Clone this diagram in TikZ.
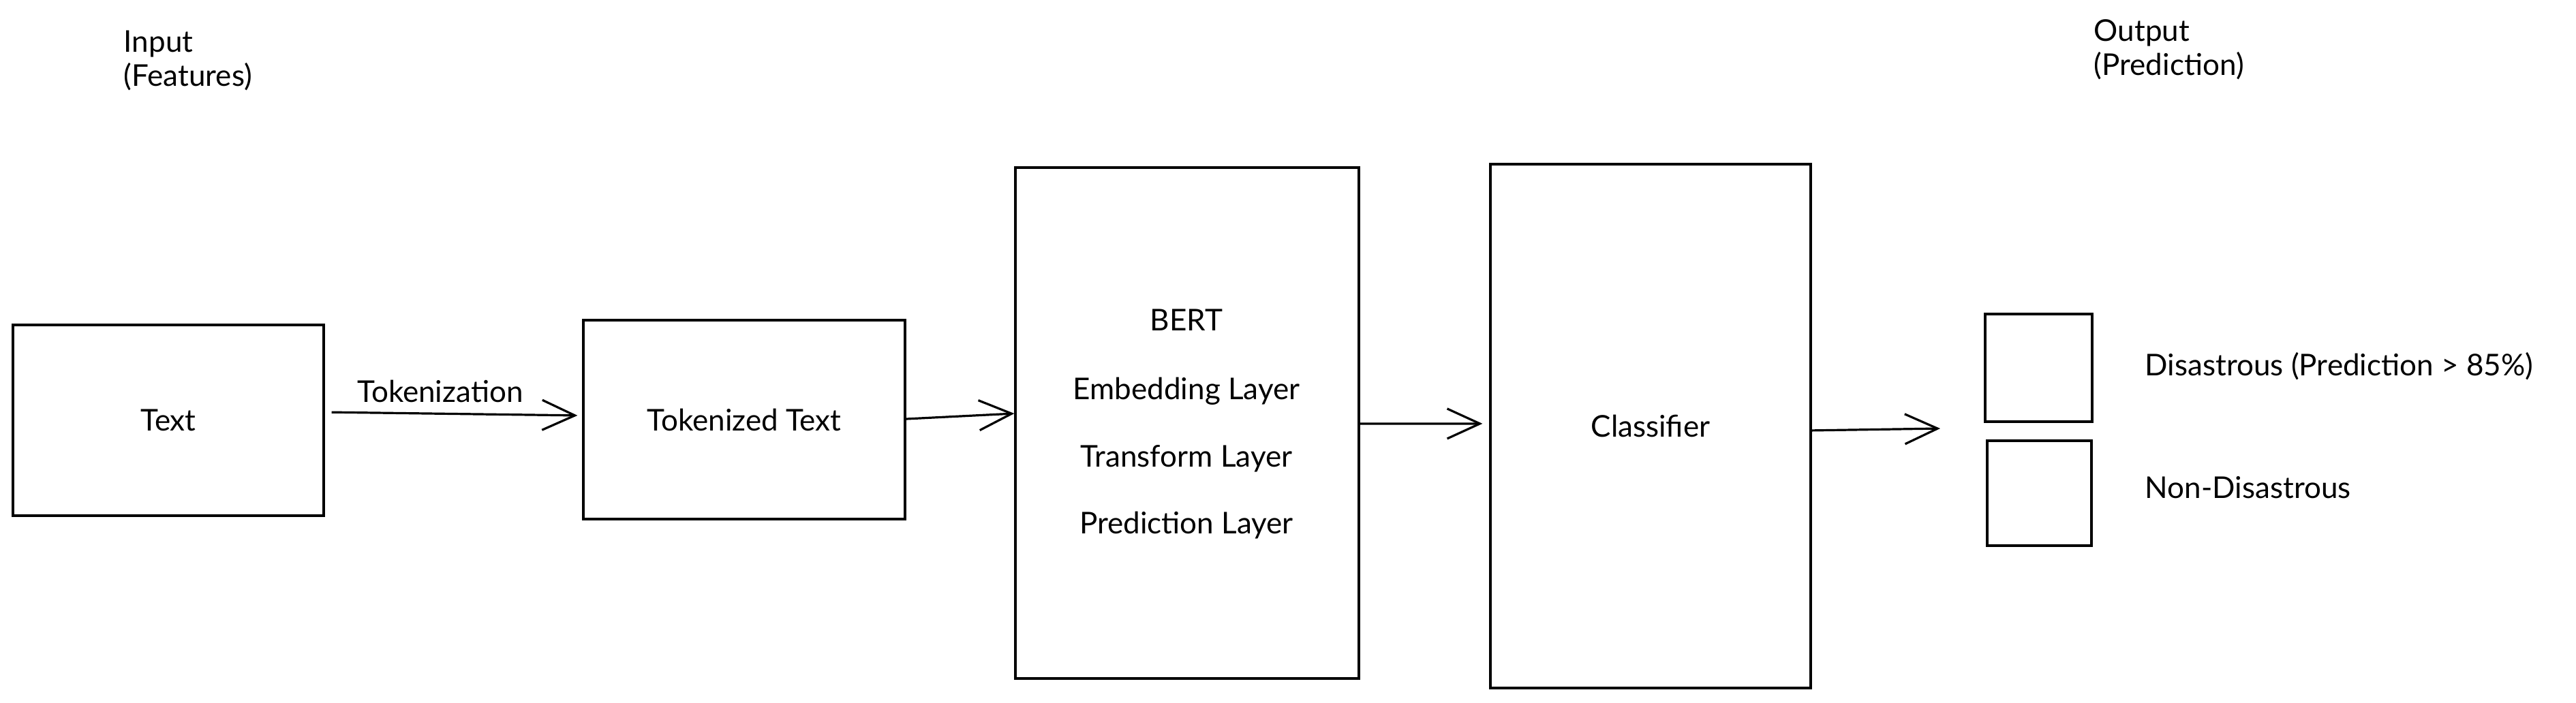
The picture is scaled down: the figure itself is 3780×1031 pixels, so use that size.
\documentclass[tikz,border=0pt]{standalone}
\usepackage{fontspec}
\setmainfont{Lato}
\usetikzlibrary{arrows.meta}
\begin{document}
\begin{tikzpicture}[x=0.25pt,y=-0.25pt,
  every node/.style={font=\fontsize{11}{12.5}\selectfont},
  box/.style={draw, line width=0.8pt, inner sep=0pt},
  lbl/.style={inner sep=0pt},
  conn/.style={line width=0.8pt, -{Straight Barb[length=12pt,width=11pt,line width=0.8pt]}}]
\useasboundingbox (0,0) rectangle (3780,1031);
% boxes
\node[box, minimum width=114pt, minimum height=70pt] (text) at (247,617) {Text};
\node[box, minimum width=118pt, minimum height=73pt] (tok) at (1092,616) {Tokenized Text};
\node[box, minimum width=126pt, minimum height=187.5pt] (bert) at (1742,621) {};
\node[box, minimum width=117.5pt, minimum height=192.25pt] (cls) at (2422,625.5) {Classifier};
\node[box, minimum width=39.25pt, minimum height=39.5pt] (o1) at (2991.5,540) {};
\node[box, minimum width=38.25pt, minimum height=38.5pt] (o2) at (2992.5,724) {};
% BERT contents
\node[lbl] (bt) at (1741,470) {BERT};
\node[lbl] (emb) at (1741,574) {Embedding Layer};
\node[lbl] (trf) at (1741,673) {Transform Layer};
\node[lbl] (prl) at (1741,771) {Prediction Layer};
% side labels
\node[lbl, align=left, anchor=west] (inp) at (181,89) {Input\\(Features)};
\node[lbl, align=left, anchor=west] (outp) at (3072,73) {Output\\(Prediction)};
\node[lbl, anchor=west] (dis) at (3147,538) {Disastrous (Prediction > 85\%)};
\node[lbl, anchor=west] (ndis) at (3147,716) {Non-Disastrous};
% connectors
\coordinate (outpt) at (2847,629);
\draw[conn, shorten <=2.5pt, shorten >=1.75pt] ([yshift=3pt]text.east) -- ([yshift=1.5pt]tok.west);
\node[lbl] (tkl) at (646,574) {Tokenization};
\draw[conn] ([yshift=0.25pt]tok.east) -- ([yshift=3.5pt]bert.west);
\draw[conn, shorten >=2.5pt] ([yshift=-0.25pt]bert.east) -- ([yshift=0.9pt]cls.west);
\draw[conn] ([yshift=-1.6pt]cls.east) -- (outpt);
\end{tikzpicture}
\end{document}
